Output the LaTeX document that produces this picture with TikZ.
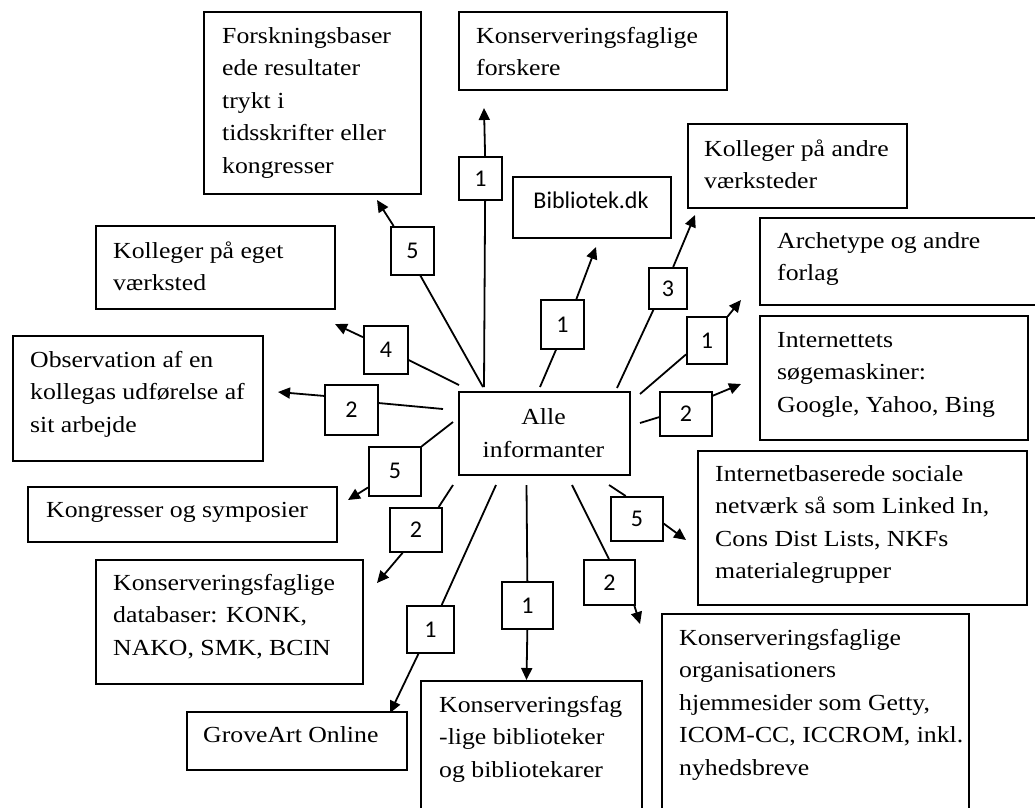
\documentclass[tikz,border=0pt]{standalone}
\usepackage{fontspec}
\setmainfont{Liberation Serif}[FakeStretch=1.12]
\newfontfamily\calib{Carlito}
\usetikzlibrary{arrows.meta}
\begin{document}
\begin{tikzpicture}[x=1pt,y=-1pt,
  box/.style={draw, line width=1.7pt, inner sep=0pt, anchor=north west},
  numbox/.style={draw, line width=1.7pt, inner sep=0pt, anchor=north west, font=\calib\fontsize{24}{28}\selectfont},
  txt/.style={anchor=north west, inner sep=0pt, align=left, font=\fontsize{23}{32.5}\selectfont},
  conn/.style={line width=1.8pt},
  arr/.style={conn, -{Triangle[length=12pt,width=11pt]}}]
\useasboundingbox (0,0) rectangle (1035,807);
\fill[white] (0,0) rectangle (1035,807);
\clip (0,0) rectangle (1035,807);
\newcommand{\fs}{\rule{0pt}{20pt}}

% target boxes
\node[box, minimum width=217pt, minimum height=182pt] (forsk) at (203,11) {};
\node[txt] (forskT) at (222,23) {\fs Forskningsbaser\\ede resultater\\trykt i\\tidsskrifter eller\\kongresser};
\node[box, minimum width=268pt, minimum height=78pt] (forskere) at (458,11) {};
\node[txt] (forskereT) at (476,23) {\fs Konserveringsfaglige\\forskere};
\node[box, minimum width=158pt, minimum height=61pt] (bib) at (512,176) {};
\node[anchor=base, inner sep=0pt, font=\calib\fontsize{24}{28}\selectfont] (bibT) at (591,208) {Bibliotek.dk};
\node[box, minimum width=219pt, minimum height=84pt] (andre) at (687,123) {};
\node[txt] (andreT) at (704,136) {\fs Kolleger på andre\\værksteder};
\node[box, minimum width=300pt, minimum height=87pt] (arch) at (759,217) {};
\node[txt] (archT) at (777,228) {\fs Archetype og andre\\forlag};
\node[box, minimum width=268pt, minimum height=124pt] (sog) at (759,315) {};
\node[txt] (sogT) at (777,327) {\fs Internettets\\søgemaskiner:\\Google, Yahoo, Bing};
\node[box, minimum width=329pt, minimum height=154pt] (soc) at (697,450) {};
\node[txt] (socT) at (715,461) {\fs Internetbaserede sociale\\netværk så som Linked In,\\Cons Dist Lists, NKFs\\materialegrupper};
\node[box, minimum width=307pt, minimum height=220pt] (org) at (661,613) {};
\node[txt] (orgT) at (679,625) {\fs Konserveringsfaglige\\organisationers\\hjemmesider som Getty,\\ICOM-CC, ICCROM, inkl.\\nyhedsbreve};
\node[box, minimum width=221pt, minimum height=160pt] (bibl) at (420,680) {};
\node[txt] (biblT) at (439,692) {\fs Konserveringsfag\\-lige biblioteker\\og bibliotekarer};
\node[box, minimum width=220pt, minimum height=58pt] (grove) at (186,711) {};
\node[txt] (groveT) at (203,722) {\fs GroveArt Online};
\node[box, minimum width=267pt, minimum height=124pt] (db) at (95,559) {};
\node[txt] (dbT) at (113,570) {\fs Konserveringsfaglige\\databaser: KONK,\\NAKO, SMK, BCIN};
\node[box, minimum width=309pt, minimum height=55pt] (kong) at (27,486) {};
\node[txt] (kongT) at (46,497) {\fs Kongresser og symposier};
\node[box, minimum width=250pt, minimum height=125pt] (obs) at (12,335) {};
\node[txt] (obsT) at (30,347) {\fs Observation af en\\kollegas udførelse af\\sit arbejde};
\node[box, minimum width=239pt, minimum height=83pt] (eget) at (95,225) {};
\node[txt] (egetT) at (113,238) {\fs Kolleger på eget\\værksted};

% centre
\node[box, minimum width=171pt, minimum height=83pt] (alle) at (458,391) {};
\node[anchor=north, inner sep=0pt, align=center, font=\fontsize{23}{33}\selectfont] (alleT) at (543.5,404) {\fs Alle\\informanter};

% number boxes
\node[numbox, minimum width=43pt, minimum height=43pt] (n1) at (458,156) {1};
\node[numbox, minimum width=43pt, minimum height=48pt] (n5) at (390,226) {5};
\node[numbox, minimum width=43pt, minimum height=49pt] (n1b) at (540,299) {1};
\node[numbox, minimum width=38pt, minimum height=41pt] (n3) at (648,267) {3};
\node[numbox, minimum width=44pt, minimum height=48pt] (n4) at (363,325) {4};
\node[numbox, minimum width=40pt, minimum height=47pt] (n1r) at (686,316) {1};
\node[numbox, minimum width=53pt, minimum height=50pt] (n2l) at (324,384) {2};
\node[numbox, minimum width=52pt, minimum height=44pt] (n2r) at (659,391) {2};
\node[numbox, minimum width=52pt, minimum height=49pt] (n5l) at (368,446) {5};
\node[numbox, minimum width=52pt, minimum height=44pt] (n5r) at (610,496) {5};
\node[numbox, minimum width=52pt, minimum height=44pt] (n2ll) at (389,507) {2};
\node[numbox, minimum width=51pt, minimum height=45pt] (n2lr) at (583,559) {2};
\node[numbox, minimum width=51pt, minimum height=47pt] (n1bc) at (501,581) {1};
\node[numbox, minimum width=47pt, minimum height=47pt] (n1bl) at (406,605) {1};

% free ends near the centre and arrow tips
\coordinate (s1) at (484,387);   \coordinate (t1) at (484,108);
\coordinate (s2) at (483,387);   \coordinate (t2) at (377,200);
\coordinate (s3) at (540,387);   \coordinate (t3) at (596,247);
\coordinate (s4) at (617,388);   \coordinate (t4) at (695,215);
\coordinate (s5) at (459,385);   \coordinate (t5) at (335,324);
\coordinate (s6) at (640,394);   \coordinate (t6) at (741,300);
\coordinate (s7) at (443,409);   \coordinate (t7) at (278,392);
\coordinate (s8) at (640,423);   \coordinate (t8) at (741,384);
\coordinate (s9) at (453,422);   \coordinate (t9) at (348,500);
\coordinate (s10) at (609,485);  \coordinate (t10) at (686,540);
\coordinate (s11) at (453,485);  \coordinate (t11) at (377,583);
\coordinate (s12) at (572,485);  \coordinate (t12) at (640,624);
\coordinate (s13) at (526.5,485);\coordinate (t13) at (526.5,680);
\coordinate (s14) at (496,485);  \coordinate (t14) at (390,713);

\draw[conn] (s1) -- (n1.-78);    \draw[arr] (n1.78) -- (t1);
\draw[conn] (s2) -- (n5.-72.6);  \draw[arr] (n5.127.6) -- (t2);
\draw[conn] (s3) -- (n1b.-104.9);\draw[arr] (n1b.61.1) -- (t3);
\draw[conn] (s4) -- (n3.-124.3); \draw[arr] (n3.76.3) -- (t4);
\draw[conn] (s5) -- (n4.-24.4);  \draw[arr] (n4.151.4) -- (t5);
\draw[conn] (s6) -- (n1r.-146);  \draw[arr] (n1r.49.6) -- (t6);
\draw[conn] (s7) -- (n2l.14.8);  \draw[arr] (n2l.153.9) -- (t7);
\draw[conn] (s8) -- (n2r.-173.4);\draw[arr] (n2r.34.7) -- (t8);
\draw[conn] (s9) -- (n5l.43.3);  \draw[arr] (n5l.-149.2) -- (t9);
\draw[conn] (s10) -- (n5r.116.6);\draw[arr] (n5r.-10.9) -- (t10);
\draw[conn] (s11) -- (n2ll.45);  \draw[arr] (n2ll.-120.6) -- (t11);
\draw[conn] (s12) -- (n2lr.91.3);\draw[arr] (n2lr.-43.8) -- (t12);
\draw[conn] (s13) -- (n1bc.north);\draw[arr] (n1bc.south) -- (t13);
\draw[conn] (s14) -- (n1bl.65.9);\draw[arr] (n1bl.-116.1) -- (t14);
\end{tikzpicture}
\end{document}
